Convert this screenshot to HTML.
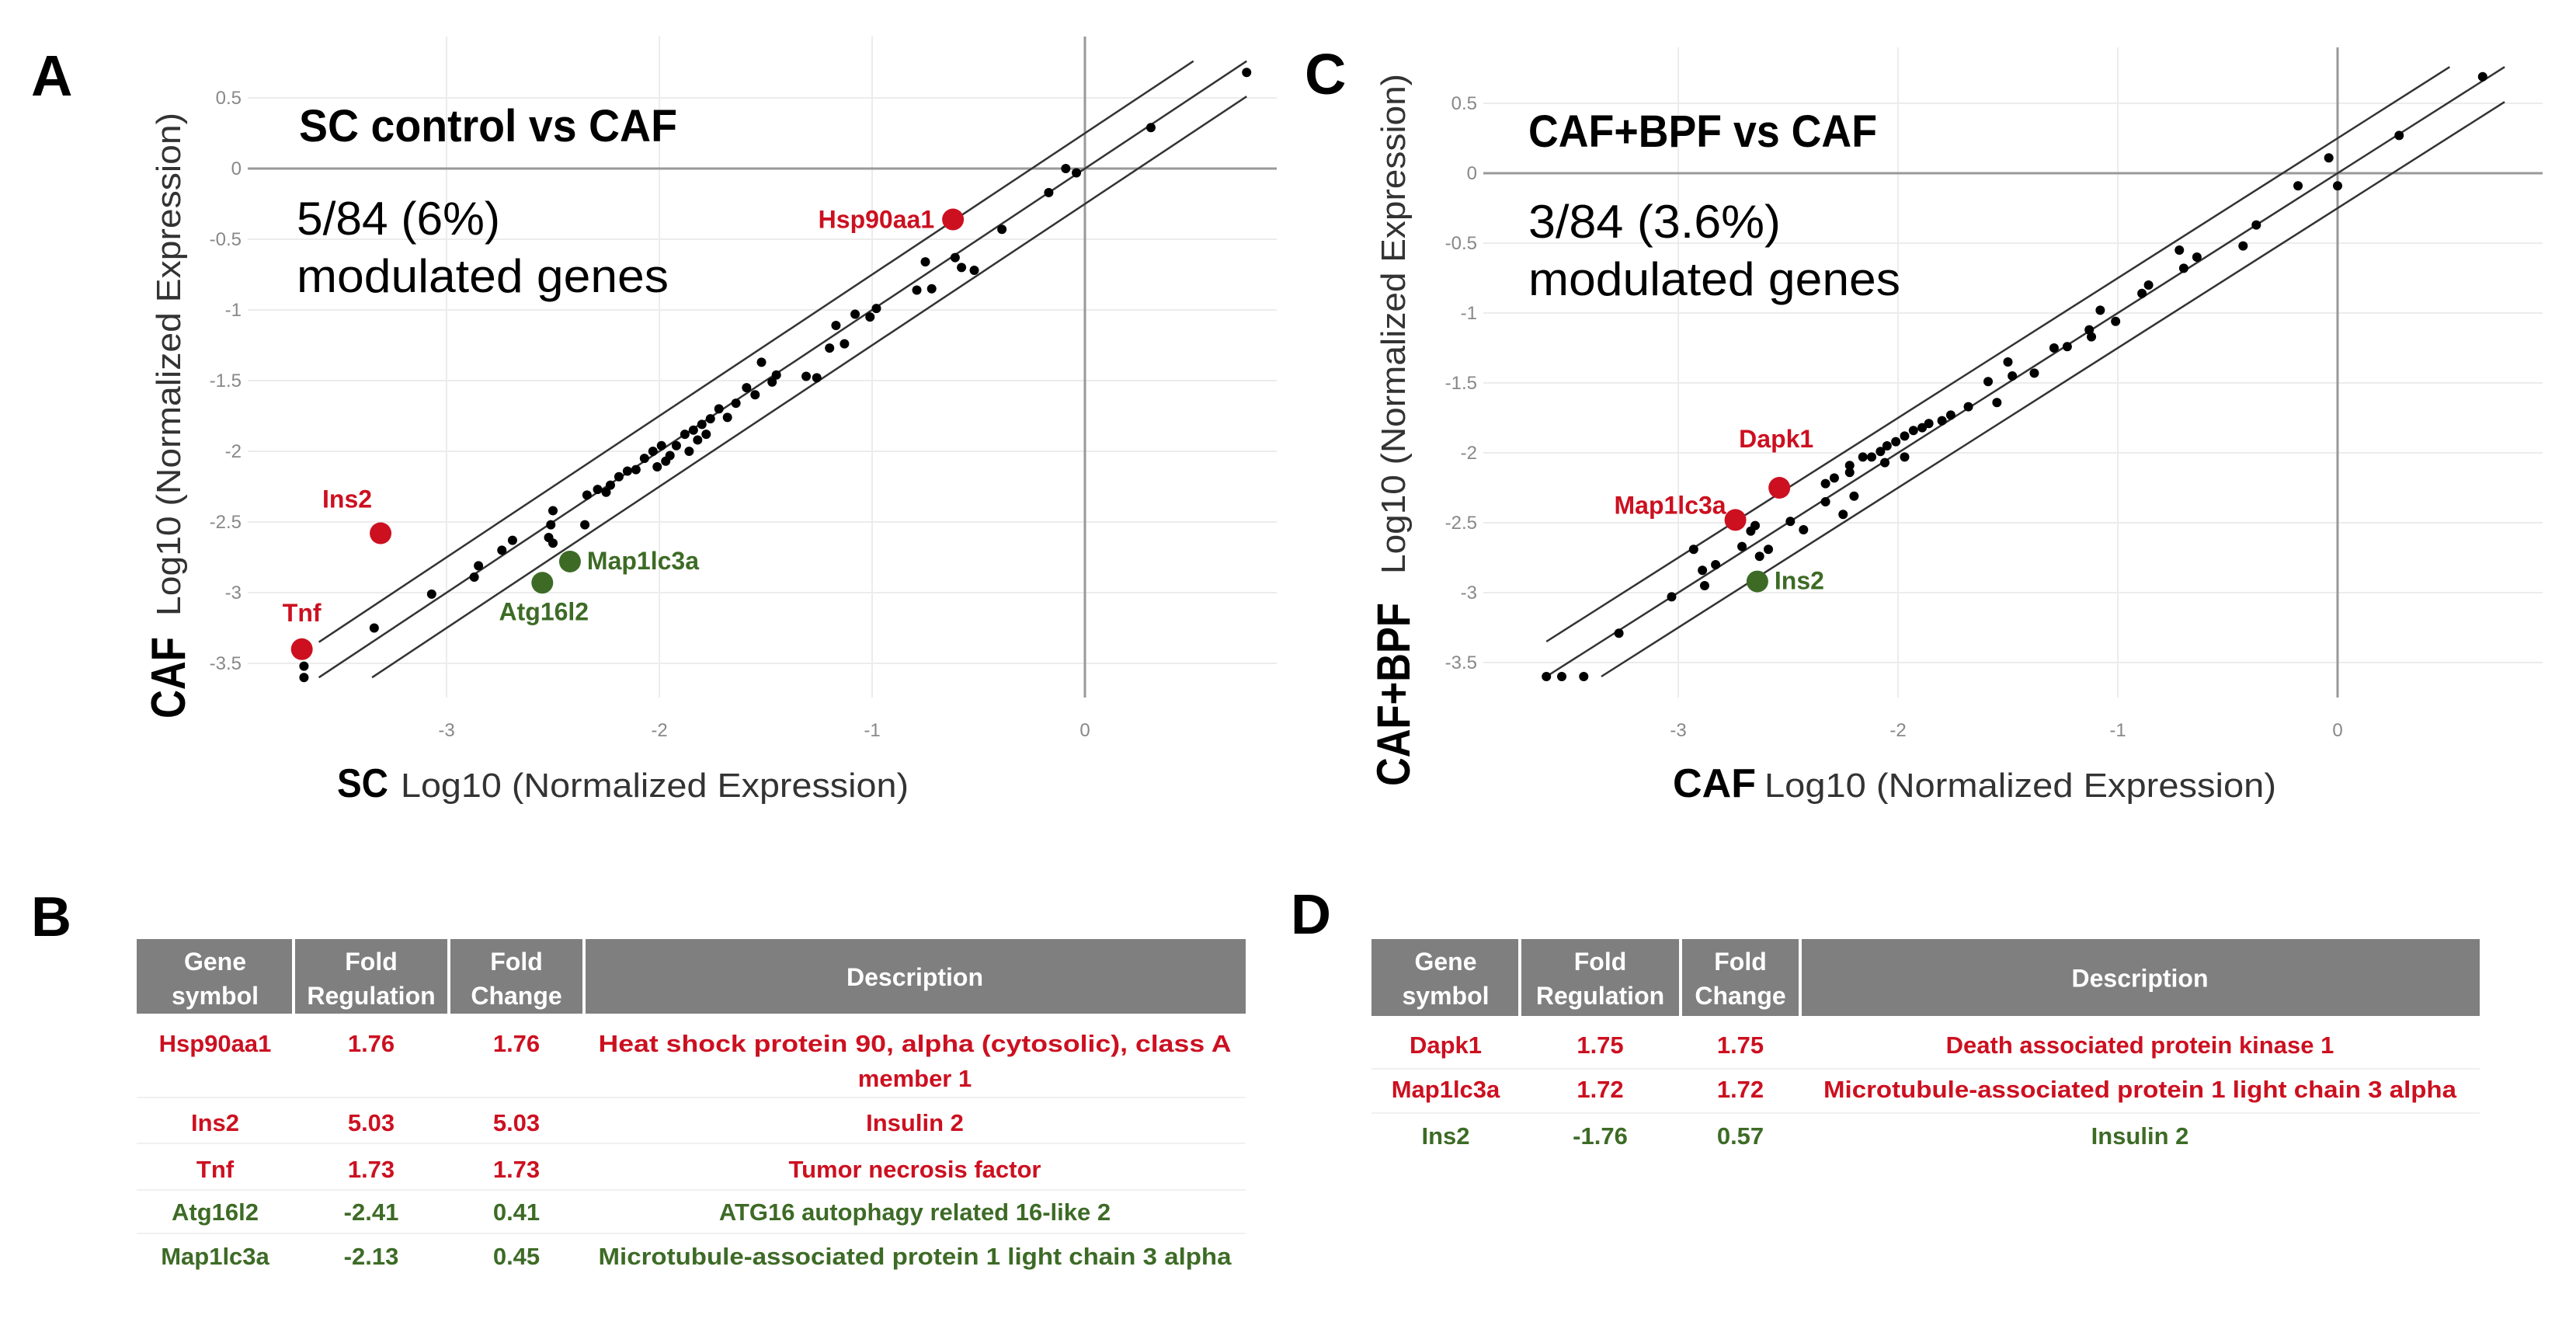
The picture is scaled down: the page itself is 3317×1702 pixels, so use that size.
<!DOCTYPE html>
<html><head><meta charset="utf-8">
<style>
html,body{margin:0;padding:0;background:#fff;}
svg{display:block;font-family:"Liberation Sans",sans-serif;}
</style></head>
<body>
<svg id="fig" width="3317" height="1702" viewBox="0 0 3317 1702" xmlns="http://www.w3.org/2000/svg">
<rect x="0" y="0" width="3317" height="1702" fill="#fff"/>
<g id="panelA"></g>
<g id="panelC"></g>

<text x="40" y="123" font-size="74" font-weight="bold">A</text>
<text x="1680" y="121" font-size="74" font-weight="bold">C</text>
<text x="40" y="1205" font-size="72" font-weight="bold">B</text>
<text x="1662" y="1202" font-size="72" font-weight="bold">D</text>

<text x="385" y="182" font-size="58" font-weight="bold" textLength="487" lengthAdjust="spacingAndGlyphs">SC control vs CAF</text>
<text x="382" y="302" font-size="60" textLength="262" lengthAdjust="spacingAndGlyphs">5/84 (6%)</text>
<text x="382" y="376" font-size="60" textLength="479" lengthAdjust="spacingAndGlyphs">modulated genes</text>
<text x="1968" y="189" font-size="58" font-weight="bold" textLength="449" lengthAdjust="spacingAndGlyphs">CAF+BPF vs CAF</text>
<text x="1968" y="306" font-size="60" textLength="325" lengthAdjust="spacingAndGlyphs">3/84 (3.6%)</text>
<text x="1968" y="380" font-size="60" textLength="479" lengthAdjust="spacingAndGlyphs">modulated genes</text>

<g>
<text x="434" y="1026" font-size="52" font-weight="bold" textLength="66" lengthAdjust="spacingAndGlyphs">SC</text>
<text x="516" y="1026" font-size="44" fill="#333" textLength="654" lengthAdjust="spacingAndGlyphs">Log10 (Normalized Expression)</text>
</g>
<g transform="translate(238,0) rotate(-90)">
<text x="-925" y="0" font-size="62" font-weight="bold" textLength="105" lengthAdjust="spacingAndGlyphs">CAF</text>
<text x="-793" y="-6" font-size="44" fill="#333" textLength="648" lengthAdjust="spacingAndGlyphs">Log10 (Normalized Expression)</text>
</g>
<g>
<text x="2154" y="1026" font-size="52" font-weight="bold" textLength="107" lengthAdjust="spacingAndGlyphs">CAF</text>
<text x="2272" y="1026" font-size="44" fill="#333" textLength="659" lengthAdjust="spacingAndGlyphs">Log10 (Normalized Expression)</text>
</g>
<g transform="translate(1815,0) rotate(-90)">
<text x="-1012" y="0" font-size="60" font-weight="bold" textLength="236" lengthAdjust="spacingAndGlyphs">CAF+BPF</text>
<text x="-739" y="-6" font-size="44" fill="#333" textLength="644" lengthAdjust="spacingAndGlyphs">Log10 (Normalized Expression)</text>
</g>

<g id="tableB"></g>
<g id="tableD"></g>
</svg>

<script>
const NS = "http://www.w3.org/2000/svg";
const RED = "#cc1020", GREEN = "#3d6b26";

const aX = [0.76,0.31,-0.09,-0.04,-0.17,-0.39,-0.75,-0.61,-0.58,-0.52,-0.79,-0.72,-0.98,-1.08,-1.01,-1.17,-1.13,-1.20,-1.31,-1.26,-1.52,-1.45,-1.47,-1.59,-1.55,-1.64,-1.72,-1.68,-1.76,-1.80,-1.84,-1.88,-1.78,-1.82,-1.92,-1.86,-1.95,-1.99,-1.97,-2.03,-2.01,-2.07,-2.11,-2.15,-2.19,-2.23,-2.25,-2.34,-2.29,-2.35,-2.50,-2.51,-2.52,-2.50,-2.69,-2.74,-2.85,-2.87,-3.07,-3.34,-3.67,-3.67];
const aY = [0.68,0.29,0.00,-0.03,-0.17,-0.43,-0.66,-0.63,-0.70,-0.72,-0.86,-0.85,-0.99,-1.03,-1.05,-1.11,-1.24,-1.27,-1.47,-1.48,-1.37,-1.46,-1.51,-1.55,-1.60,-1.66,-1.70,-1.76,-1.77,-1.81,-1.85,-1.88,-1.88,-1.92,-1.96,-2.00,-2.03,-1.96,-2.07,-2.00,-2.11,-2.05,-2.13,-2.14,-2.18,-2.24,-2.29,-2.31,-2.27,-2.52,-2.42,-2.52,-2.61,-2.65,-2.63,-2.70,-2.81,-2.89,-3.01,-3.25,-3.52,-3.60];
const aHiNames = ["Hsp90aa1","Ins2","Tnf","Atg16l2","Map1lc3a"];
const aHiX = [-0.62,-3.31,-3.68,-2.55,-2.42];
const aHiY = [-0.36,-2.58,-3.40,-2.93,-2.78];
const aHiUp = [true,true,true,false,false];

const cX = [0.66,0.28,-0.04,0.00,-0.18,-0.37,-0.43,-0.72,-0.64,-0.70,-0.86,-0.89,-1.08,-1.01,-1.13,-1.12,-1.23,-1.29,-1.38,-1.50,-1.48,-1.59,-1.55,-1.68,-1.76,-1.80,-1.86,-1.89,-1.93,-1.97,-2.01,-2.05,-1.97,-2.08,-2.06,-2.12,-2.16,-2.22,-2.22,-2.29,-2.33,-2.33,-2.20,-2.25,-2.49,-2.43,-2.65,-2.67,-2.71,-2.59,-2.63,-2.93,-2.89,-2.83,-2.88,-3.03,-3.27,-3.60,-3.53,-3.43];
const cY = [0.69,0.27,0.11,-0.09,-0.09,-0.37,-0.52,-0.55,-0.60,-0.68,-0.80,-0.86,-0.98,-1.06,-1.12,-1.17,-1.24,-1.25,-1.43,-1.35,-1.45,-1.49,-1.64,-1.67,-1.73,-1.77,-1.79,-1.82,-1.84,-1.88,-1.92,-1.95,-2.03,-1.99,-2.07,-2.03,-2.03,-2.09,-2.14,-2.18,-2.22,-2.35,-2.31,-2.44,-2.49,-2.55,-2.52,-2.56,-2.67,-2.69,-2.74,-2.69,-2.84,-2.80,-2.95,-3.03,-3.29,-3.60,-3.60,-3.60];
const cHiNames = ["Dapk1","Map1lc3a","Ins2"];
const cHiX = [-2.54,-2.74,-2.64];
const cHiY = [-2.25,-2.48,-2.92];
const cHiUp = [true,true,false];

const yTicks = [0.5,0,-0.5,-1,-1.5,-2,-2.5,-3,-3.5];
const yTickLabels = ["0.5","0","-0.5","-1","-1.5","-2","-2.5","-3","-3.5"];
const xTicks = [-3,-2,-1,0];
const xTickLabels = ["-3","-2","-1","0"];
const foldOffsets = [0.25,0,-0.25];

function el(tag, attrs, parent){
  const e = document.createElementNS(NS, tag);
  for (const k in attrs) e.setAttribute(k, attrs[k]);
  parent.appendChild(e);
  return e;
}

function drawScatter(g, cfg){
  const X = v => cfg.x0 + cfg.sx * v;
  const Y = v => cfg.y0 - cfg.sy * v;
  for (let i = 0; i < yTicks.length; i++){
    const ln = el("line",{x1:cfg.left,x2:cfg.right,y1:Y(yTicks[i]),y2:Y(yTicks[i]),stroke:"#ececec","stroke-width":2},g);
    
    
    const t = el("text",{x:cfg.left-8,y:Y(yTicks[i])+8,"font-size":24,fill:"#888","text-anchor":"end"},g);
    t.textContent = yTickLabels[i];
    
    
  }
  for (let i = 0; i < xTicks.length; i++){
    const ln = el("line",{x1:X(xTicks[i]),x2:X(xTicks[i]),y1:cfg.top,y2:cfg.bottom,stroke:"#ececec","stroke-width":2},g);
    
    
    const t = el("text",{x:X(xTicks[i]),y:cfg.bottom+50,"font-size":24,fill:"#888","text-anchor":"middle"},g);
    t.textContent = xTickLabels[i];
    
    
  }
  const hz = el("line",{x1:cfg.left,x2:cfg.right,y1:Y(0),y2:Y(0),stroke:"#999","stroke-width":3},g);
  
  
  const vz = el("line",{x1:X(0),x2:X(0),y1:cfg.top,y2:cfg.bottom,stroke:"#999","stroke-width":3},g);
  
  
  for (let i = 0; i < foldOffsets.length; i++){
    const o = foldOffsets[i];
    const lo = -3.6, hi = 0.76;
    let xa = Math.max(lo, lo - o), xb = Math.min(hi, hi - o);
    const ln = el("line",{x1:X(xa),y1:Y(xa+o),x2:X(xb),y2:Y(xb+o),stroke:"#333","stroke-width":2.5},g);
    
    
  }
  for (let i = 0; i < cfg.px.length; i++){
    const c = el("circle",{cx:X(cfg.px[i]),cy:Y(cfg.py[i]),r:6,fill:"#000"},g);
    
    
  }
  for (let i = 0; i < cfg.hx.length; i++){
    const col = cfg.hup[i] ? RED : GREEN;
    const cx = X(cfg.hx[i]), cy = Y(cfg.hy[i]);
    const c = el("circle",{cx:cx,cy:cy,r:14,fill:col},g);
    
    
    const p = cfg.lab[i];
    const t = el("text",{x:cx+p[0],y:cy+p[1],"font-size":32,"font-weight":"bold",fill:col,"text-anchor":p[2]},g);
    t.textContent = cfg.hn[i];
    
    
  }
}

drawScatter(document.getElementById("panelA"), {
  x0:1397, sx:274, y0:217, sy:182, left:319, right:1644, top:47, bottom:898,
  px:aX, py:aY, hx:aHiX, hy:aHiY, hn:aHiNames, hup:aHiUp,
  lab:[[-24,11,"end"],[-43,-33,"middle"],[0,-36,"middle"],[2,48,"middle"],[22,10,"start"]]
});
drawScatter(document.getElementById("panelC"), {
  x0:3010, sx:283, y0:223, sy:180, left:1910, right:3274, top:61, bottom:898,
  px:cX, py:cY, hx:cHiX, hy:cHiY, hn:cHiNames, hup:cHiUp,
  lab:[[-4,-52,"middle"],[-12,-8,"end"],[22,10,"start"]]
});

const bGenes = ["Hsp90aa1","Ins2","Tnf","Atg16l2","Map1lc3a"];
const bFoldReg = ["1.76","5.03","1.73","-2.41","-2.13"];
const bFoldChange = ["1.76","5.03","1.73","0.41","0.45"];
const bDesc = [["Heat shock protein 90, alpha (cytosolic), class A","member 1"],["Insulin 2"],["Tumor necrosis factor"],["ATG16 autophagy related 16-like 2"],["Microtubule-associated protein 1 light chain 3 alpha"]];
const bUp = [true,true,true,false,false];
const dGenes = ["Dapk1","Map1lc3a","Ins2"];
const dFoldReg = ["1.75","1.72","-1.76"];
const dFoldChange = ["1.75","1.72","0.57"];
const dDesc = [["Death associated protein kinase 1"],["Microtubule-associated protein 1 light chain 3 alpha"],["Insulin 2"]];
const dUp = [true,true,false];

function drawTable(g, cfg){
  const hdr = el("rect",{x:cfg.cols[0],y:cfg.hy,width:cfg.cols[4]-cfg.cols[0],height:cfg.hh,fill:"#7f7f7f"},g);
  
  
  for (let i = 1; i < 4; i++){
    const s = el("line",{x1:cfg.cols[i],x2:cfg.cols[i],y1:cfg.hy,y2:cfg.hy+cfg.hh,stroke:"#fff","stroke-width":4},g);
    
    
  }
  const heads = [["Gene","symbol"],["Fold","Regulation"],["Fold","Change"],["Description"]];
  for (let i = 0; i < 4; i++){
    const cx = (cfg.cols[i]+cfg.cols[i+1])/2;
    const lines = heads[i];
    for (let j = 0; j < lines.length; j++){
      const yy = lines.length === 1 ? cfg.hy + cfg.hh/2 + 12 : cfg.hy + 40 + j*44;
      const t = el("text",{x:cx,y:yy,"font-size":32,"font-weight":"bold",fill:"#fff","text-anchor":"middle"},g);
      t.textContent = lines[j];
      
      
    }
  }
  for (let r = 0; r < cfg.genes.length; r++){
    const col = cfg.up[r] ? RED : GREEN;
    const y = cfg.rowY[r];
    const vals = [cfg.genes[r], cfg.fr[r], cfg.fc[r]];
    for (let i = 0; i < 3; i++){
      const t = el("text",{x:(cfg.cols[i]+cfg.cols[i+1])/2,y:y+11,"font-size":31,"font-weight":"bold",fill:col,"text-anchor":"middle"},g);
      t.textContent = vals[i];
      
      
    }
    const dl = cfg.desc[r];
    for (let j = 0; j < dl.length; j++){
      const attrs = {x:(cfg.cols[3]+cfg.cols[4])/2,y:y+11+j*45,"font-size":31,"font-weight":"bold",fill:col,"text-anchor":"middle"};
      if (dl[j].length > 48) { attrs.textLength = 815; attrs.lengthAdjust = "spacingAndGlyphs"; }
      else if (dl[j].length > 45) { attrs.textLength = 742; attrs.lengthAdjust = "spacingAndGlyphs"; }
      const t = el("text",attrs,g);
      t.textContent = dl[j];
      
      
    }
    if (cfg.sepY[r]){
      const s = el("line",{x1:cfg.cols[0],x2:cfg.cols[4],y1:cfg.sepY[r],y2:cfg.sepY[r],stroke:"#f0f0f0","stroke-width":2},g);
      
      
    }
  }
}

drawTable(document.getElementById("tableB"), {
  cols:[176,378,578,752,1604], hy:1209, hh:96,
  genes:bGenes, fr:bFoldReg, fc:bFoldChange, desc:bDesc, up:bUp,
  rowY:[1343,1445,1505,1560,1617], sepY:[1413,1472,1532,1588,0]
});
drawTable(document.getElementById("tableD"), {
  cols:[1766,1957,2164,2318,3193], hy:1209, hh:99,
  genes:dGenes, fr:dFoldReg, fc:dFoldChange, desc:dDesc, up:dUp,
  rowY:[1345,1402,1462], sepY:[1376,1433,0]
});
</script>
</body></html>
